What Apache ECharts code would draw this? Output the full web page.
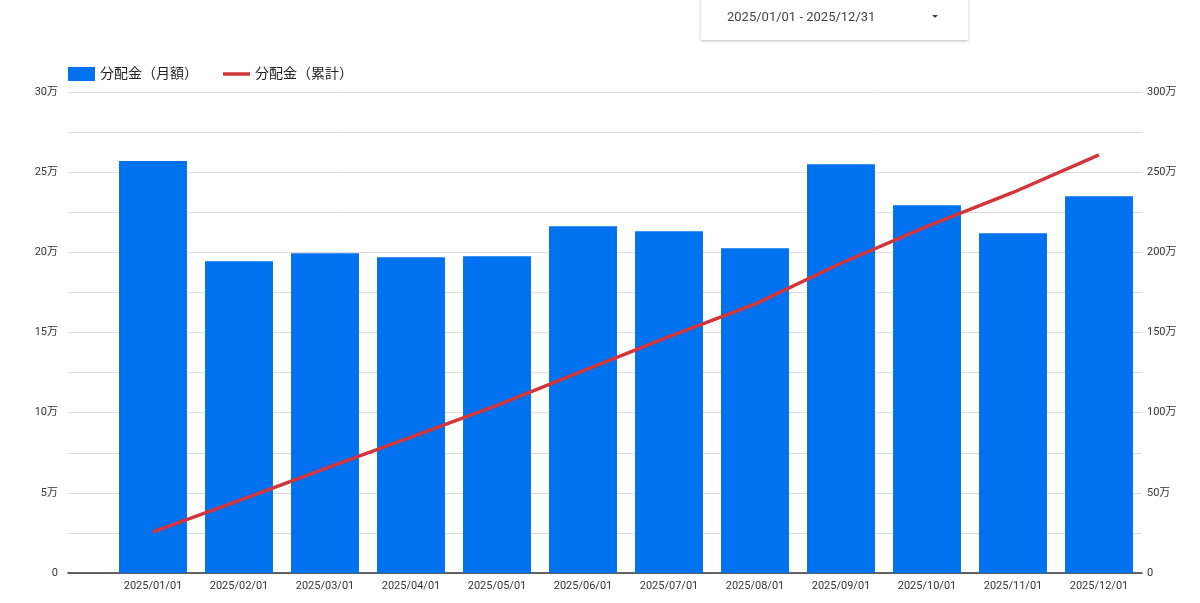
<!DOCTYPE html>
<html><head><meta charset="utf-8">
<script src="https://cdn.jsdelivr.net/npm/echarts@6/dist/echarts.min.js"></script>
<style>
html,body{margin:0;padding:0;background:#fff;}
#chart{position:absolute;left:0;top:0;width:1200px;height:603px;}
#range{position:absolute;left:701px;top:-4px;width:267px;height:44px;background:#fff;
box-shadow:0 1px 3px rgba(0,0,0,0.25);font-family:Roboto,"Noto Sans CJK JP",sans-serif;font-size:13px;color:#444;}
#range span{position:absolute;left:26px;top:13px;}
#range i{position:absolute;left:231px;top:19px;width:0;height:0;border-left:3.5px solid transparent;border-right:3.5px solid transparent;border-top:3.5px solid #444;}
</style></head>
<body>
<div id="chart"></div>
<div id="range"><span>2025/01/01 - 2025/12/31</span><i></i></div>
<script>
const categories = ['2025/01/01','2025/02/01','2025/03/01','2025/04/01','2025/05/01','2025/06/01','2025/07/01','2025/08/01','2025/09/01','2025/10/01','2025/11/01','2025/12/01'];
const monthly = [256900, 194400, 199400, 196900, 197500, 216300, 213100, 202500, 255000, 229400, 211900, 235000];
const cumulative = [256900, 451300, 650700, 847600, 1045100, 1261400, 1474500, 1677000, 1932000, 2161400, 2373300, 2608300];
const seriesNames = ['分配金（月額）', '分配金（累計）'];

const font = 'Roboto, "Noto Sans CJK JP", sans-serif';
const chart = echarts.init(document.getElementById('chart'));
const man = v => v === 0 ? '0' : (v / 10000) + '万';
chart.setOption({
  animation: false,
  textStyle: { fontFamily: font },
  legend: {
    left: 63, top: 62, itemWidth: 27, itemHeight: 14, itemGap: 25,
    textStyle: { fontSize: 14, color: '#222', fontFamily: font },
    data: [{ name: seriesNames[0], icon: 'rect' },
           { name: seriesNames[1], icon: 'path://M0,0 L27,0 L27,3.5 L0,3.5 Z' }]
  },
  grid: [
    { left: 68, right: 58, top: 92, bottom: 30 },
    { left: 110, right: 58, top: 92, bottom: 30 }
  ],
  xAxis: [
    { gridIndex: 0, type: 'value', min: 0, max: 1,
      axisLine: { show: true, onZero: false, lineStyle: { color: '#333', width: 1.5 } },
      axisTick: { show: false }, axisLabel: { show: false }, splitLine: { show: false } },
    { gridIndex: 1, type: 'category', data: categories,
      axisLine: { show: false }, axisTick: { show: false },
      axisLabel: { fontSize: 11, color: '#333', margin: 8, fontFamily: font } }
  ],
  yAxis: [
    { gridIndex: 0, type: 'value', min: 0, max: 300000, interval: 25000,
      axisLine: { show: false }, axisTick: { show: false },
      axisLabel: { fontSize: 11, color: '#333', margin: 10, fontFamily: font,
        formatter: v => (v % 50000 === 0) ? man(v) : '' },
      splitLine: { lineStyle: { color: '#dcdcdc', width: 1 } } },
    { gridIndex: 0, type: 'value', position: 'right', min: 0, max: 3000000, interval: 500000,
      axisLine: { show: false }, axisTick: { show: false },
      axisLabel: { fontSize: 11, color: '#333', margin: 5, fontFamily: font, formatter: man },
      splitLine: { show: false } },
    { gridIndex: 1, type: 'value', min: 0, max: 300000, show: false },
    { gridIndex: 1, type: 'value', min: 0, max: 3000000, show: false }
  ],
  series: [
    { name: seriesNames[0], type: 'bar', xAxisIndex: 1, yAxisIndex: 2, data: monthly,
      barCategoryGap: '21%', itemStyle: { color: '#0072f0' } },
    { name: seriesNames[1], type: 'line', xAxisIndex: 1, yAxisIndex: 3, data: cumulative,
      symbol: 'none', showSymbol: false, lineStyle: { color: '#d4353a', width: 3.5 },
      itemStyle: { color: '#d4353a' }, z: 5 }
  ]
});
</script>
</body></html>
